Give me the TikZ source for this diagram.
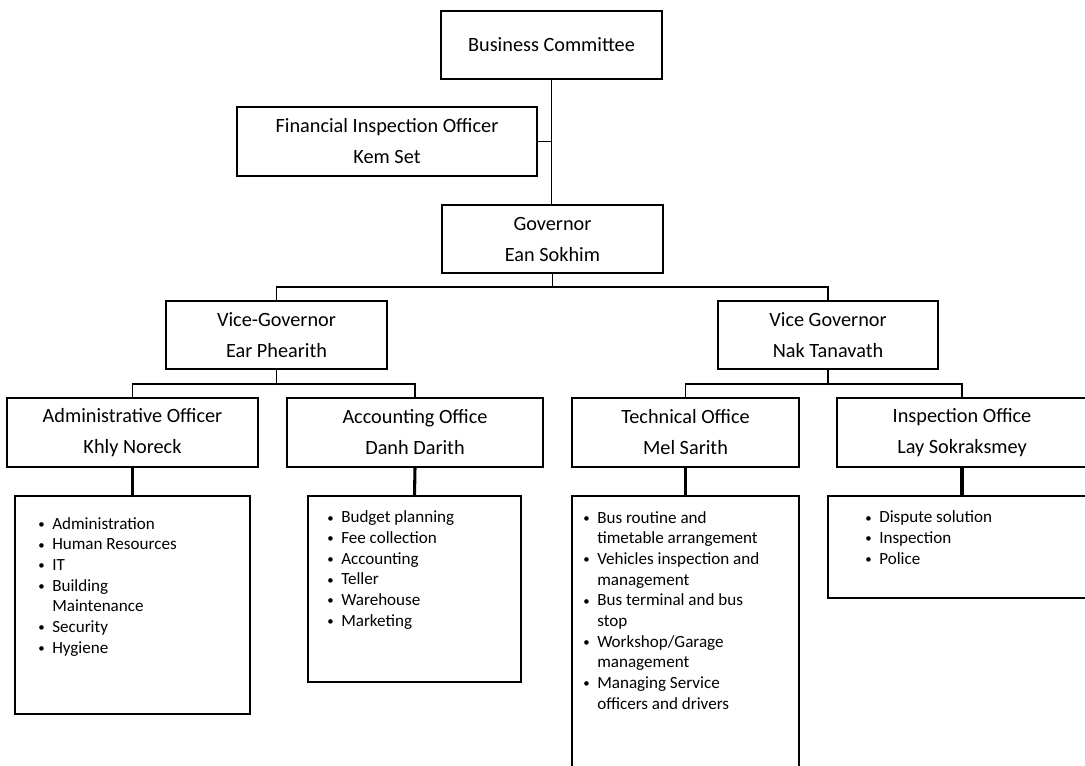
\documentclass[tikz,border=0pt]{standalone}
\usepackage{fontspec}
\setmainfont{Carlito}
\newcommand\itm{\makebox[10.5pt][l]{\raisebox{0.5pt}{\scalebox{0.75}{\textbullet}}}}
\newcommand\ind{\hspace*{10.5pt}}
\begin{document}
\begin{tikzpicture}[x=0.75pt,y=-0.75pt,
  box/.style 2 args={draw, line width=1.2pt, minimum width=#1*0.75pt, minimum height=#2*0.75pt,
    inner sep=0pt, align=center, font=\fontsize{15.2}{23.25}\selectfont},
  lbox/.style 2 args={draw, line width=1.2pt, minimum width=#1*0.75pt, minimum height=#2*0.75pt, inner sep=0pt},
  ltext/.style={anchor=base west, inner sep=0pt, align=left, font=\fontsize{12.8}{15.5}\selectfont},
  conn/.style={line width=1.2pt},
  tconn/.style={line width=2.3pt}]
\useasboundingbox (0,0) rectangle (1085,765);
\clip (0,0) rectangle (1085,765);

% top levels
\node[box={221}{68}] (bc) at (551.5,45) {Business Committee};
\node[box={300}{69}] (fio) at (387,141.5) {Financial Inspection Officer\\Kem Set};
\node[box={221}{68}] (gov) at (552.5,239) {Governor\\Ean Sokhim};
\node[box={221}{68}] (vg1) at (276.5,335) {Vice-Governor\\Ear Phearith};
\node[box={220}{68}] (vg2) at (828,335) {Vice Governor\\Nak Tanavath};

% offices
\node[box={251}{69}] (ao) at (132.5,432.5) {Administrative Officer\\Khly Noreck};
\node[box={256}{69}] (acc) at (415,432.5) {Accounting Office\\Danh Darith};
\node[box={227}{69}] (tech) at (685.5,432.5) {Technical Office\\Mel Sarith};
\node[box={250}{69}] (insp) at (962,432.5) {Inspection Office\\Lay Sokraksmey};

% list boxes
\node[lbox={235}{218}] (aol) at (132.5,605) {};
\node[lbox={213}{186}] (accl) at (414.5,589) {};
\node[lbox={227}{300}] (techl) at (685.5,646) {};
\node[lbox={268}{102}] (inspl) at (962,547) {};

% list texts (anchored at the baseline of the last line)
\node[ltext] (aot) at (38,653) {\itm Administration\\\itm Human Resources\\\itm IT\\\itm Building\\\ind Maintenance\\\itm Security\\\itm Hygiene};
\node[ltext] (acct) at (327,626) {\itm Budget planning\\\itm Fee collection\\\itm Accounting\\\itm Teller\\\itm Warehouse\\\itm Marketing};
\node[ltext] (techt) at (583,709) {\itm Bus routine and\\\ind timetable arrangement\\\itm Vehicles inspection and\\\ind management\\\itm Bus terminal and bus\\\ind stop\\\itm Workshop/Garage\\\ind management\\\itm Managing Service\\\ind officers and drivers};
\node[ltext] (inspt) at (865,564) {\itm Dispute solution\\\itm Inspection\\\itm Police};

% connectors
\coordinate (bar1) at (552,287);
\coordinate (bar2l) at (276.5,384);
\coordinate (bar2r) at (828,384);
\draw[conn] (bc.south) -- (bc.south |- gov.north);
\draw[conn] (fio.east) -- (fio.east -| bc.south);
\draw[conn] (gov.south) -- (gov.south |- bar1);
\draw[conn] (vg1.north) |- (bar1) -| (vg2.north);
\draw[conn] (vg1.south) -- (bar2l);
\draw[conn] (ao.north) |- (bar2l) -| (acc.north);
\draw[conn] (vg2.south) -- (bar2r);
\draw[conn] (tech.north) |- (bar2r) -| (insp.north);
\draw[tconn] (ao.south) -- (aol.north);
\draw[tconn] (acc.south) -- (accl.north);
\draw[tconn] (tech.south) -- (techl.north);
\draw[tconn] (insp.south) -- (inspl.north);
\end{tikzpicture}
\end{document}
